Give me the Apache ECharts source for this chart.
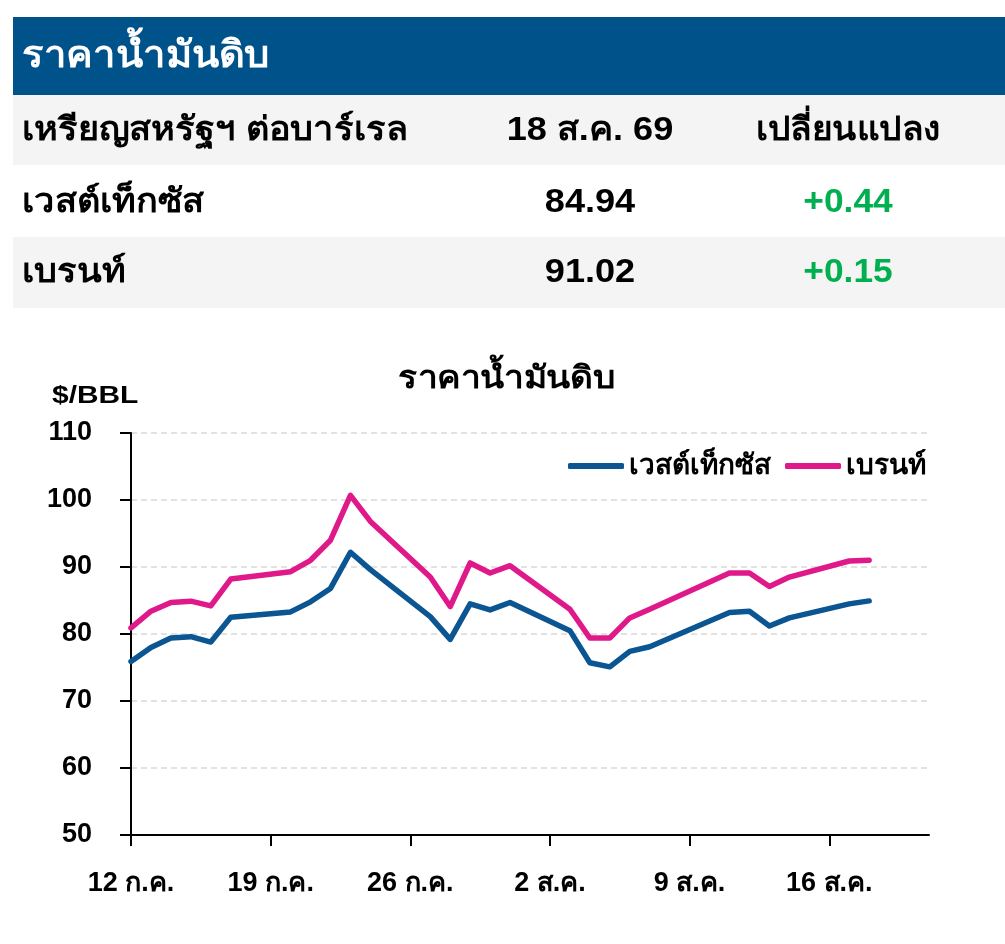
<!DOCTYPE html>
<html>
<head>
<meta charset="utf-8">
<script src="https://cdn.jsdelivr.net/npm/echarts@6/dist/echarts.min.js"></script>
<style>
html,body{margin:0;padding:0;background:#fff;}
#c{width:1005px;height:944px;}
</style>
</head>
<body>
<div id="c"></div>
<script>
// ---- data ----
const startDate = '2026-07-12';
const dates = ['2026-07-12','2026-07-13','2026-07-14','2026-07-15','2026-07-16','2026-07-17',
  '2026-07-20','2026-07-21','2026-07-22','2026-07-23','2026-07-24',
  '2026-07-27','2026-07-28','2026-07-29','2026-07-30','2026-07-31',
  '2026-08-03','2026-08-04','2026-08-05','2026-08-06','2026-08-07',
  '2026-08-11','2026-08-12','2026-08-13','2026-08-14',
  '2026-08-17','2026-08-18'];
const wti = [75.9,78.0,79.4,79.6,78.8,82.5,
  83.3,84.8,86.8,92.2,89.6,
  82.6,79.2,84.5,83.6,84.7,
  80.5,75.7,75.1,77.4,78.1,
  83.2,83.4,81.2,82.4,
  84.5,84.94];
const brent = [80.9,83.4,84.7,84.9,84.2,88.2,
  89.3,91.0,94.0,100.7,96.8,
  88.5,84.1,90.6,89.1,90.2,
  83.7,79.4,79.4,82.4,83.7,
  89.1,89.1,87.1,88.5,
  90.9,91.02];
const seriesNames = ['เวสต์เท็กซัส','เบรนท์'];
const tickDays = [0,7,14,21,28,35];
const tickLabels = ['12 ก.ค.','19 ก.ค.','26 ก.ค.','2 ส.ค.','9 ส.ค.','16 ส.ค.'];
const yTicks = [50,60,70,80,90,100,110];
const headerTitle = 'ราคาน้ำมันดิบ';
const tableHead = ['เหรียญสหรัฐฯ ต่อบาร์เรล','18 ส.ค. 69','เปลี่ยนแปลง'];
const tableRows = [['เวสต์เท็กซัส','84.94','+0.44'],['เบรนท์','91.02','+0.15']];
const chartTitle = 'ราคาน้ำมันดิบ';
const unitLabel = '$/BBL';

// ---- build ----
const DAY = 86400000;
const t0 = Date.parse(startDate);
const dayOf = d => Math.round((Date.parse(d) - t0) / DAY);
const wtiData = dates.map((d,i)=>[dayOf(d), wti[i]]);
const brentData = dates.map((d,i)=>[dayOf(d), brent[i]]);

const FONT = "'Liberation Sans', 'Noto Sans', sans-serif";
const BLUE = '#0a5592';
const PINK = '#e0198a';

const graphics = [];
graphics.push({type:'rect', shape:{x:13,y:17,width:992,height:78}, style:{fill:'#00528a'}});
graphics.push({type:'rect', shape:{x:13,y:95,width:992,height:70}, style:{fill:'#f4f4f4'}});
graphics.push({type:'rect', shape:{x:13,y:237,width:992,height:71}, style:{fill:'#f4f4f4'}});
graphics.push({type:'text', x:22, y:57, scaleX:1.08, style:{text:headerTitle, fill:'#fff', font:'bold 37px '+FONT, textVerticalAlign:'middle'}});
const rowY = [131, 203, 273];
const rowsAll = [tableHead].concat(tableRows);
rowsAll.forEach((r, i) => {
  graphics.push({type:'text', x:22, y:rowY[i], scaleX:1.095, style:{text:r[0], fill:'#000', font:'bold 33px '+FONT, textVerticalAlign:'middle'}});
  graphics.push({type:'text', x:590, y:rowY[i], scaleX:1.095, style:{text:r[1], fill:'#000', font:'bold 33px '+FONT, textAlign:'center', textVerticalAlign:'middle'}});
  graphics.push({type:'text', x:848, y:rowY[i], scaleX:1.07, style:{text:r[2], fill: i===0 ? '#000' : '#00b050', font:'bold 33px '+FONT, textAlign:'center', textVerticalAlign:'middle'}});
});
graphics.push({type:'text', x:507, y:379, scaleX:1.14, style:{text:chartTitle, fill:'#000', font:'bold 31px '+FONT, textAlign:'center', textVerticalAlign:'middle'}});
graphics.push({type:'text', x:52, y:397, scaleX:1.3, style:{text:unitLabel, fill:'#000', font:'bold 23px '+FONT, textVerticalAlign:'middle'}});

const chart = echarts.init(document.getElementById('c'));
chart.setOption({
  animation:false,
  backgroundColor:'#fff',
  graphic: graphics,
  grid:{left:131, right:76, top:433, bottom:109, containLabel:false},
  legend:{
    right:74, top:447, icon:'roundRect', itemWidth:56, itemHeight:6, itemGap:14,
    textStyle:{fontFamily:FONT, fontWeight:'bold', fontSize:28, color:'#000'},
    data: seriesNames
  },
  xAxis:{
    type:'value', min:0, max:40,
    axisLine:{show:true, lineStyle:{color:'#000', width:2}},
    axisTick:{show:true, customValues:tickDays, length:11, lineStyle:{color:'#000', width:2}},
    axisLabel:{customValues:tickDays, margin:35, color:'#000', fontFamily:FONT, fontWeight:'bold', fontSize:27,
      formatter: v => { const i = tickDays.indexOf(v); return i>=0 ? tickLabels[i] : ''; }},
    splitLine:{show:false}
  },
  yAxis:{
    type:'value', min:50, max:110, interval:10,
    axisLine:{show:true, lineStyle:{color:'#000', width:2}},
    axisTick:{show:true, length:11, lineStyle:{color:'#000', width:2}},
    axisLabel:{margin:39, color:'#000', fontFamily:FONT, fontWeight:'bold', fontSize:27,
      formatter: v => yTicks.indexOf(v)>=0 ? String(v) : ''},
    splitLine:{show:true, lineStyle:{color:'#d9d9d9', type:[6,4], width:1.5}}
  },
  series:[
    {name:seriesNames[0], type:'line', data:wtiData, showSymbol:false, symbol:'none',
      lineStyle:{color:BLUE, width:5.5, cap:'round', join:'round'}, itemStyle:{color:BLUE}, z:3},
    {name:seriesNames[1], type:'line', data:brentData, showSymbol:false, symbol:'none',
      lineStyle:{color:PINK, width:5.5, cap:'round', join:'round'}, itemStyle:{color:PINK}, z:2}
  ]
});
</script>
</body>
</html>
